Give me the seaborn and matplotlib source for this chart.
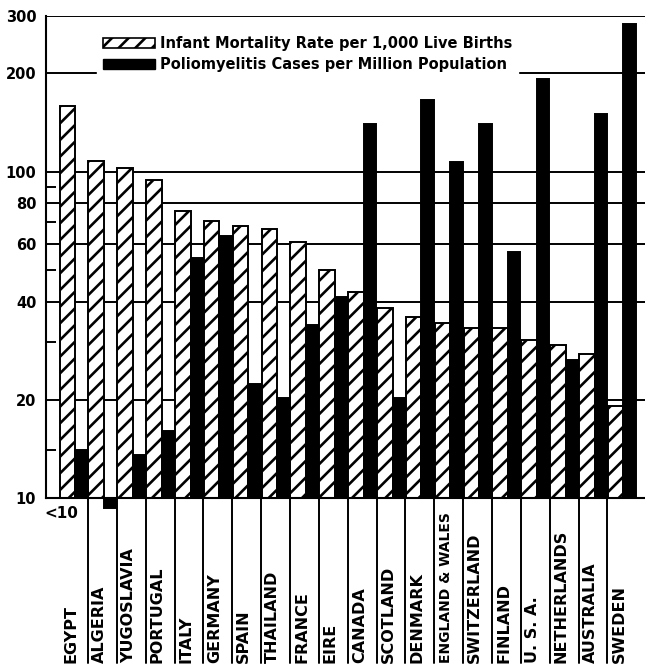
import matplotlib
matplotlib.use("Agg")
import matplotlib.pyplot as plt
import matplotlib.transforms as mtransforms
from matplotlib.patches import Patch
from matplotlib.ticker import FixedLocator, NullFormatter, FixedFormatter
import seaborn as sns
import pandas as pd

countries = ["EGYPT", "ALGERIA", "YUGOSLAVIA", "PORTUGAL", "ITALY", "GERMANY",
             "SPAIN", "THAILAND", "FRANCE", "EIRE", "CANADA", "SCOTLAND",
             "DENMARK", "ENGLAND & WALES", "SWITZERLAND", "FINLAND", "U. S. A.",
             "NETHERLANDS", "AUSTRALIA", "SWEDEN"]
infant_mortality = [159, 108, 103, 94.5, 76, 70.5, 68, 66.7, 60.8, 50,
                    42.9, 38.2, 35.8, 34.5, 33.3, 33.3, 30.5, 29.5, 27.6, 19.1]
polio_cases = [14.0, 9.3, 13.5, 16.1, 54.4, 63.3, 22.4, 20.3, 33.9, 41.2,
               140, 20.2, 166, 107, 140, 56.7, 192, 26.5, 150, 284]
series_names = ["Infant Mortality Rate per 1,000 Live Births",
                "Poliomyelitis Cases per Million Population"]
y_ticks = [10, 20, 40, 60, 80, 100, 200, 300]
y_minor_ticks = [14, 30, 50, 70, 90]

df = pd.DataFrame({
    "country": countries * 2,
    "series": [series_names[0]] * len(countries) + [series_names[1]] * len(countries),
    "value": infant_mortality + polio_cases,
})

sns.set_theme(style="white")
plt.rcParams["font.family"] = ["DejaVu Sans"]
plt.rcParams["hatch.linewidth"] = 1.9
plt.rcParams["text.color"] = "black"
plt.rcParams["ytick.color"] = "black"
plt.rcParams["ytick.labelcolor"] = "black"

W, H = 645, 668
fig = plt.figure(figsize=(W / 100, H / 100), dpi=100)
ax = fig.add_axes([46 / W, 1 - 498 / H, (W - 46) / W, (498 - 16) / H])

sns.barplot(data=df, x="country", y="value", hue="series",
            palette={series_names[0]: "white", series_names[1]: "black"},
            edgecolor="black", linewidth=1.4, width=1.0, dodge=True,
            legend=False, ax=ax, zorder=3)

ax.set_yscale("log")
base = 10
for k, cont in enumerate(ax.containers):
    vals = infant_mortality if k == 0 else polio_cases
    for i, (bar, v) in enumerate(zip(cont.patches, vals)):
        if k == 0:
            x0, w = i - 0.485, 0.54
            bar.set_hatch("//")
        else:
            x0, w = i + 0.055, 0.43
        bar.set_x(x0)
        bar.set_width(w)
        bar.set_y(base)
        bar.set_height(v - base)
        if v < base:
            bar.set_clip_on(False)

ax.set_xlim(-0.953, 19.8)
ax.set_ylim(10, 300)

ax.yaxis.set_major_locator(FixedLocator(y_ticks))
ax.yaxis.set_major_formatter(FixedFormatter([str(t) for t in y_ticks]))
ax.yaxis.set_minor_locator(FixedLocator(y_minor_ticks))
ax.yaxis.set_minor_formatter(NullFormatter())
ax.tick_params(axis="y", which="major", length=0, pad=7, labelsize=10.5,
               labelcolor="black")
ax.tick_params(axis="y", which="minor", direction="in", length=7, width=1.4,
               left=True, right=False, color="black")
for lab in ax.get_yticklabels():
    lab.set_fontweight("bold")
ax.set_xticks([])
ax.set_xlabel("")
ax.set_ylabel("")

ax.grid(False)
for t in y_ticks[1:]:
    ax.axhline(t, color="black", lw=1.4, zorder=1)

for s in ["top", "right"]:
    ax.spines[s].set_visible(False)
for s in ["left", "bottom"]:
    ax.spines[s].set_color("black")
    ax.spines[s].set_linewidth(1.5)
    ax.spines[s].set_zorder(4)

trans = mtransforms.blended_transform_factory(ax.transData, ax.transAxes)
bottom_y = (498 - 663) / (498 - 16)
for i in range(len(countries) - 1):
    ax.plot([i + 0.5, i + 0.5], [0, bottom_y], color="black", lw=1.4,
            transform=trans, clip_on=False)
for i, name in enumerate(countries):
    fs = 10 if len(name) > 12 else 11.5
    ax.text(i - 0.1, bottom_y, name, rotation=90, ha="center", va="bottom",
            fontsize=fs, fontweight="bold", color="black", transform=trans)
ax.text(-0.43, (498 - 513) / (498 - 16), "<10", ha="center", va="center",
        fontsize=11, fontweight="bold", color="black", transform=trans)

handles = [Patch(facecolor="white", edgecolor="black", hatch="//", linewidth=1.2),
           Patch(facecolor="black", edgecolor="black")]
leg = ax.legend(handles, series_names, loc="upper left",
                bbox_to_anchor=(97 / W, 1 - 30 / H), bbox_transform=fig.transFigure,
                frameon=True, fancybox=False, framealpha=1, edgecolor="white",
                prop={"weight": "bold", "size": 10.5}, handlelength=3.55,
                handleheight=0.7, handletextpad=0.35, labelspacing=0.42,
                borderpad=0.4, borderaxespad=0, labelcolor="black")
leg.set_zorder(5)

fig.savefig("out.png", dpi=100)
